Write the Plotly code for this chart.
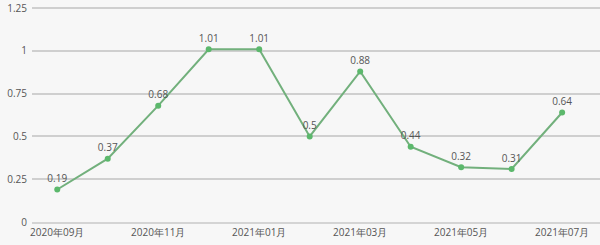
import plotly.graph_objects as go

categories = ["2020年09月", "2020年10月", "2020年11月", "2020年12月", "2021年01月", "2021年02月",
              "2021年03月", "2021年04月", "2021年05月", "2021年06月", "2021年07月"]
values = [0.19, 0.37, 0.68, 1.01, 1.01, 0.5, 0.88, 0.44, 0.32, 0.31, 0.64]
labels = ["0.19", "0.37", "0.68", "1.01", "1.01", "0.5", "0.88", "0.44", "0.32", "0.31", "0.64"]
y_ticks = [0, 0.25, 0.5, 0.75, 1, 1.25]
y_tick_text = ["0", "0.25", "0.5", "0.75", "1", "1.25"]

xs = list(range(len(categories)))
shown = [i for i in xs if i % 2 == 0]

fig = go.Figure()
fig.add_trace(go.Scatter(
    x=xs, y=values, mode="lines+markers+text",
    text=labels, textposition="top center",
    textfont=dict(size=10, color="#555555", family="Open Sans"),
    line=dict(color="#72b07c", width=2),
    marker=dict(color="#5cb86c", size=6),
    cliponaxis=False,
    hoverinfo="skip",
))

fig.update_layout(
    width=600, height=245,
    margin=dict(l=32, r=0, t=7, b=23),
    paper_bgcolor="#f7f7f7", plot_bgcolor="#f7f7f7",
    showlegend=False,
    font=dict(family="Open Sans", size=10, color="#555555"),
    xaxis=dict(
        range=[-0.5, 10.75],
        tickvals=shown, ticktext=[categories[i] for i in shown],
        showgrid=False, zeroline=False,
        showline=True, linecolor="#d4d4d4", linewidth=2,
        ticks="", tickfont=dict(size=10, color="#555555"),
        fixedrange=True,
    ),
    yaxis=dict(
        range=[0, 1.257],
        tickvals=y_ticks, ticktext=y_tick_text,
        showgrid=True, gridcolor="#cfcfcf", gridwidth=1.5,
        zeroline=False, ticks="outside", ticklen=2, tickcolor="rgba(0,0,0,0)",
        tickfont=dict(size=10, color="#555555"),
        fixedrange=True,
    ),
)

fig.write_html("out.html")
